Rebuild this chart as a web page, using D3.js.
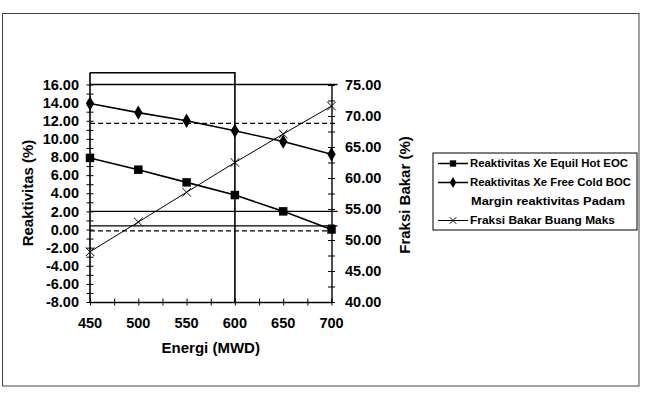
<!DOCTYPE html>
<html>
<head>
<meta charset="utf-8">
<script src="https://cdn.jsdelivr.net/npm/d3@7"></script>
<style>
  body { margin: 0; background: #fff; }
  svg text { font-family: Arial, "Liberation Sans", sans-serif; font-weight: bold; fill: #000; }
  .axis path, .axis line { stroke: #000; }
</style>
</head>
<body>
<svg id="chart" width="646" height="405"></svg>
<script>
const energi = [450, 500, 550, 600, 650, 700];
const xeEquilHot = [7.9, 6.6, 5.2, 3.8, 2.0, 0.0];
const xeFreeCold = [13.9, 12.9, 12.0, 10.9, 9.7, 8.3];
const fraksiBakar = [48.1, 52.9, 57.7, 62.5, 67.1, 71.6];
const leftTicks = d3.range(-8, 16.01, 2);
const rightTicks = d3.range(40, 75.01, 5);
const xTicks = d3.range(450, 700.01, 50);
// margin lines drawn across the plot (left axis values)
const marginLines = [
  { v: 16, dash: false }, { v: 11.7, dash: true },
  { v: 2.0, dash: false }, { v: 0.4, dash: false }, { v: -0.15, dash: true }
];
const marginX = 600;
const leftAxisTop = 17.3;
const legendLabels = [
  "Reaktivitas Xe Equil Hot EOC",
  "Reaktivitas Xe Free Cold BOC",
  "Margin reaktivitas Padam",
  "Fraksi Bakar Buang Maks"
];
const legendWidths = [158, 161, 154, 145];

const fmt = d3.formatLocale({ decimal: ".", thousands: ",", grouping: [3], currency: ["", ""], minus: "-" }).format(".2f");

const svg = d3.select('#chart');
const plot = { left: 90, right: 331.5, top: 84.5, bottom: 302 };

const x = d3.scaleLinear().domain([450, 700]).range([plot.left, plot.right]);
const yL = d3.scaleLinear().domain([-8, 16]).range([plot.bottom, plot.top]);
const yR = d3.scaleLinear().domain([40, 75]).range([plot.bottom, 85]);

// outer border
svg.append('rect')
  .attr('x', 2.5).attr('y', 13.5).attr('width', 636.5).attr('height', 372.5)
  .attr('fill', 'none').attr('stroke', '#444').attr('stroke-width', 1);

// margin lines
svg.append('g').selectAll('line').data(marginLines).join('line')
  .attr('x1', plot.left).attr('x2', plot.right + 6)
  .attr('y1', d => yL(d.v)).attr('y2', d => yL(d.v))
  .attr('stroke', '#000').attr('stroke-width', 1.3)
  .attr('stroke-dasharray', d => d.dash ? '5,3' : null);

// upper frame and vertical margin line
svg.append('path')
  .attr('d', `M${x(450)},${yL(leftAxisTop)}H${x(marginX)}V${plot.bottom}`)
  .attr('fill', 'none').attr('stroke', '#000').attr('stroke-width', 1.6);

// crossing ticks helper
const crossTicks = (g, a, b) => g.selectAll('.tick line').attr(a, -3.5).attr(b, 3.5);

// left axis
const gL = svg.append('g').attr('class', 'axis')
  .attr('transform', `translate(${plot.left},0)`)
  .call(d3.axisLeft(yL).tickValues(d3.range(-8, 16.01, 1)).tickSize(0).tickFormat(''));
crossTicks(gL, 'x1', 'x2');
gL.select('.domain').remove();
svg.append('line').attr('x1', plot.left).attr('x2', plot.left)
  .attr('y1', yL(leftAxisTop)).attr('y2', plot.bottom).attr('stroke', '#000').attr('stroke-width', 1.6);
svg.append('g').selectAll('text').data(leftTicks).join('text')
  .attr('x', 79).attr('y', d => yL(d)).attr('dy', '0.36em')
  .attr('text-anchor', 'end').style('font-size', '14.5px').text(fmt);

// right axis
const gR = svg.append('g').attr('class', 'axis')
  .attr('transform', `translate(${plot.right},0)`)
  .call(d3.axisRight(yR).tickValues(d3.range(40, 75.01, 2.5)).tickSize(0).tickFormat(''));
crossTicks(gR, 'x1', 'x2');
gR.select('.domain').attr('stroke-width', 1.4);
svg.append('g').selectAll('text').data(rightTicks).join('text')
  .attr('x', 345).attr('y', d => yR(d)).attr('dy', '0.36em')
  .attr('text-anchor', 'start').style('font-size', '14.5px').text(fmt);

// bottom axis
const gB = svg.append('g').attr('class', 'axis')
  .attr('transform', `translate(0,${plot.bottom})`)
  .call(d3.axisBottom(x).tickValues(d3.range(450, 700.01, 25)).tickSize(0).tickFormat(''));
crossTicks(gB, 'y1', 'y2');
gB.select('.domain').attr('stroke-width', 1.4);
svg.append('g').selectAll('text').data(xTicks).join('text')
  .attr('x', d => x(d)).attr('y', 323).attr('dy', '0.36em')
  .attr('text-anchor', 'middle').style('font-size', '14.5px').text(d => d);

// axis titles
svg.append('text').attr('x', (plot.left + plot.right) / 2).attr('y', 348).attr('dy', '0.36em')
  .attr('text-anchor', 'middle').style('font-size', '15px').text('Energi (MWD)');
svg.append('text').attr('transform', 'translate(28,193) rotate(-90)').attr('dy', '0.36em')
  .attr('text-anchor', 'middle').style('font-size', '15px').text('Reaktivitas (%)');
svg.append('text').attr('transform', 'translate(405,195) rotate(-90)').attr('dy', '0.36em')
  .attr('text-anchor', 'middle').style('font-size', '15px').text('Fraksi Bakar (%)');

// series
const lineL = d3.line().x((d, i) => x(energi[i])).y(d => yL(d));
const lineR = d3.line().x((d, i) => x(energi[i])).y(d => yR(d));

svg.append('path').attr('d', lineR(fraksiBakar)).attr('fill', 'none').attr('stroke', '#000').attr('stroke-width', 1);
svg.append('path').attr('d', lineL(xeFreeCold)).attr('fill', 'none').attr('stroke', '#000').attr('stroke-width', 1.6);
svg.append('path').attr('d', lineL(xeEquilHot)).attr('fill', 'none').attr('stroke', '#000').attr('stroke-width', 1.6);

const square = d3.symbol().type(d3.symbolSquare).size(72);
const diamond = d3.symbol().type(d3.symbolDiamond).size(60);
const cross = d3.symbol().type(d3.symbolX).size(50);

svg.append('g').selectAll('path').data(xeEquilHot).join('path')
  .attr('transform', (d, i) => `translate(${x(energi[i])},${yL(d)})`).attr('d', square).attr('fill', '#000');
svg.append('g').selectAll('path').data(xeFreeCold).join('path')
  .attr('transform', (d, i) => `translate(${x(energi[i])},${yL(d)})`).attr('d', diamond).attr('fill', '#000');
svg.append('g').selectAll('path').data(fraksiBakar).join('path')
  .attr('transform', (d, i) => `translate(${x(energi[i])},${yR(d)})`).attr('d', cross)
  .attr('fill', 'none').attr('stroke', '#000').attr('stroke-width', 1);

// legend
const lg = svg.append('g').attr('transform', 'translate(433,153)');
lg.append('rect').attr('width', 204).attr('height', 77).attr('fill', '#fff')
  .attr('stroke', '#000').attr('stroke-width', 1);
const markers = [
  { sym: d3.symbol().type(d3.symbolSquare).size(40), fill: '#000', stroke: 'none' },
  { sym: d3.symbol().type(d3.symbolDiamond).size(36), fill: '#000', stroke: 'none' },
  null,
  { sym: d3.symbol().type(d3.symbolX).size(30), fill: 'none', stroke: '#000' }
];
legendLabels.forEach((label, i) => {
  const yy = 10.5 + i * 19;
  const m = markers[i];
  if (m) {
    lg.append('line').attr('x1', 5).attr('x2', 35).attr('y1', yy).attr('y2', yy)
      .attr('stroke', '#000').attr('stroke-width', i === 3 ? 1 : 1.5);
    lg.append('path').attr('transform', `translate(20,${yy})`).attr('d', m.sym)
      .attr('fill', m.fill).attr('stroke', m.stroke);
  }
  lg.append('text').attr('x', i === 2 ? 38 : 37).attr('y', yy).attr('dy', '0.36em')
    .style('font-size', '10.5px').attr('textLength', legendWidths[i])
    .attr('lengthAdjust', 'spacingAndGlyphs').text(label);
});
</script>
</body>
</html>
